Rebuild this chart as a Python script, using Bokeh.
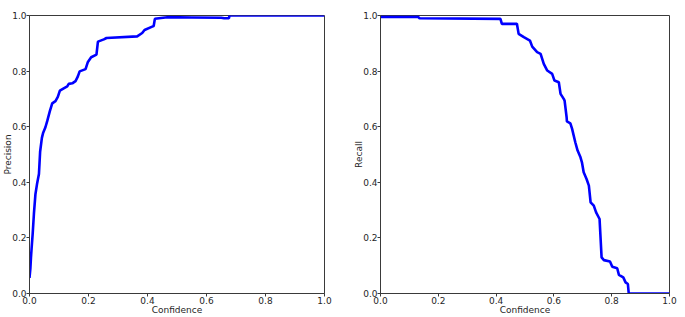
from bokeh.plotting import figure
from bokeh.layouts import row
from bokeh.models import Range1d, FixedTicker, NumeralTickFormatter
from bokeh.embed import file_html
from bokeh.resources import INLINE

# Precision vs confidence
prec_conf = [0.0, 0.003, 0.005, 0.007, 0.011, 0.015, 0.02, 0.026, 0.032, 0.034, 0.036, 0.042,
             0.046, 0.054, 0.06, 0.069, 0.077, 0.088, 0.096, 0.103, 0.116, 0.128, 0.133, 0.145,
             0.156, 0.164, 0.17, 0.19, 0.198, 0.209, 0.227, 0.232, 0.252, 0.261, 0.365, 0.382,
             0.39, 0.416, 0.421, 0.425, 0.467, 0.55, 0.65, 0.66, 0.676, 0.678, 1.0]
prec_vals = [0.056, 0.09, 0.13, 0.16, 0.218, 0.287, 0.356, 0.397, 0.43, 0.47, 0.51, 0.56,
             0.577, 0.598, 0.62, 0.656, 0.684, 0.692, 0.707, 0.73, 0.738, 0.745, 0.754, 0.756,
             0.764, 0.781, 0.799, 0.807, 0.833, 0.85, 0.859, 0.906, 0.914, 0.919, 0.925, 0.937,
             0.948, 0.96, 0.962, 0.988, 0.994, 0.993, 0.992, 0.99, 0.99, 1.0, 1.0]

# Recall vs confidence
rec_conf = [0.0, 0.13, 0.135, 0.415, 0.42, 0.472, 0.478, 0.496, 0.517, 0.525, 0.542, 0.554,
            0.565, 0.577, 0.594, 0.602, 0.617, 0.623, 0.634, 0.637, 0.644, 0.645, 0.657, 0.663,
            0.674, 0.682, 0.692, 0.697, 0.703, 0.713, 0.721, 0.727, 0.738, 0.746, 0.758, 0.765,
            0.773, 0.794, 0.802, 0.819, 0.825, 0.84, 0.848, 0.856, 0.859, 1.0]
rec_vals = [0.995, 0.995, 0.99, 0.988, 0.97, 0.97, 0.934, 0.922, 0.91, 0.888, 0.868, 0.862,
            0.826, 0.802, 0.79, 0.766, 0.76, 0.718, 0.7, 0.694, 0.634, 0.619, 0.612, 0.592,
            0.544, 0.514, 0.49, 0.472, 0.436, 0.412, 0.388, 0.328, 0.316, 0.292, 0.268, 0.13,
            0.12, 0.115, 0.096, 0.091, 0.067, 0.058, 0.04, 0.034, 0.0, 0.0]

ticks = [0.0, 0.2, 0.4, 0.6, 0.8, 1.0]
FONT = "DejaVu Sans"
TXT = "#262626"
SPINE = "#3a3a3a"


def make(xs, ys, ylabel, w, bl, bt, br, bb):
    p = figure(width=w, height=317, output_backend="svg", toolbar_location=None,
               x_range=Range1d(0, 1), y_range=Range1d(0, 1),
               min_border_left=bl, min_border_top=bt, min_border_right=br, min_border_bottom=bb)
    p.line(xs, ys, line_color="#0000ff", line_width=2.6)
    p.xgrid.visible = False
    p.ygrid.visible = False
    p.outline_line_color = SPINE
    p.outline_line_width = 1
    p.background_fill_color = "white"
    p.border_fill_color = "white"
    for ax, lab in ((p.xaxis[0], "Confidence"), (p.yaxis[0], ylabel)):
        ax.ticker = FixedTicker(ticks=ticks)
        ax.formatter = NumeralTickFormatter(format="0.0")
        ax.minor_tick_line_color = None
        ax.major_tick_out = 3
        ax.major_tick_in = 0
        ax.axis_line_color = SPINE
        ax.major_tick_line_color = SPINE
        ax.major_label_text_font = FONT
        ax.major_label_text_font_size = "9px"
        ax.major_label_text_color = TXT
        ax.major_label_standoff = 0
        ax.axis_label = lab
        ax.axis_label_text_font = FONT
        ax.axis_label_text_font_size = "9px"
        ax.axis_label_text_font_style = "normal"
        ax.axis_label_text_color = TXT
    p.xaxis[0].axis_label_standoff = -2
    p.yaxis[0].axis_label_standoff = -4
    p.yaxis[0].major_label_orientation = "horizontal"
    return p


p1 = make(prec_conf, prec_vals, "Precision", 340, 29, 3, 16, 24)
p2 = make(rec_conf, rec_vals, "Recall", 345, 40, 15, 16, 24)

layout = row(p1, p2, spacing=0)
open("out.html", "w").write(file_html(layout, INLINE))
